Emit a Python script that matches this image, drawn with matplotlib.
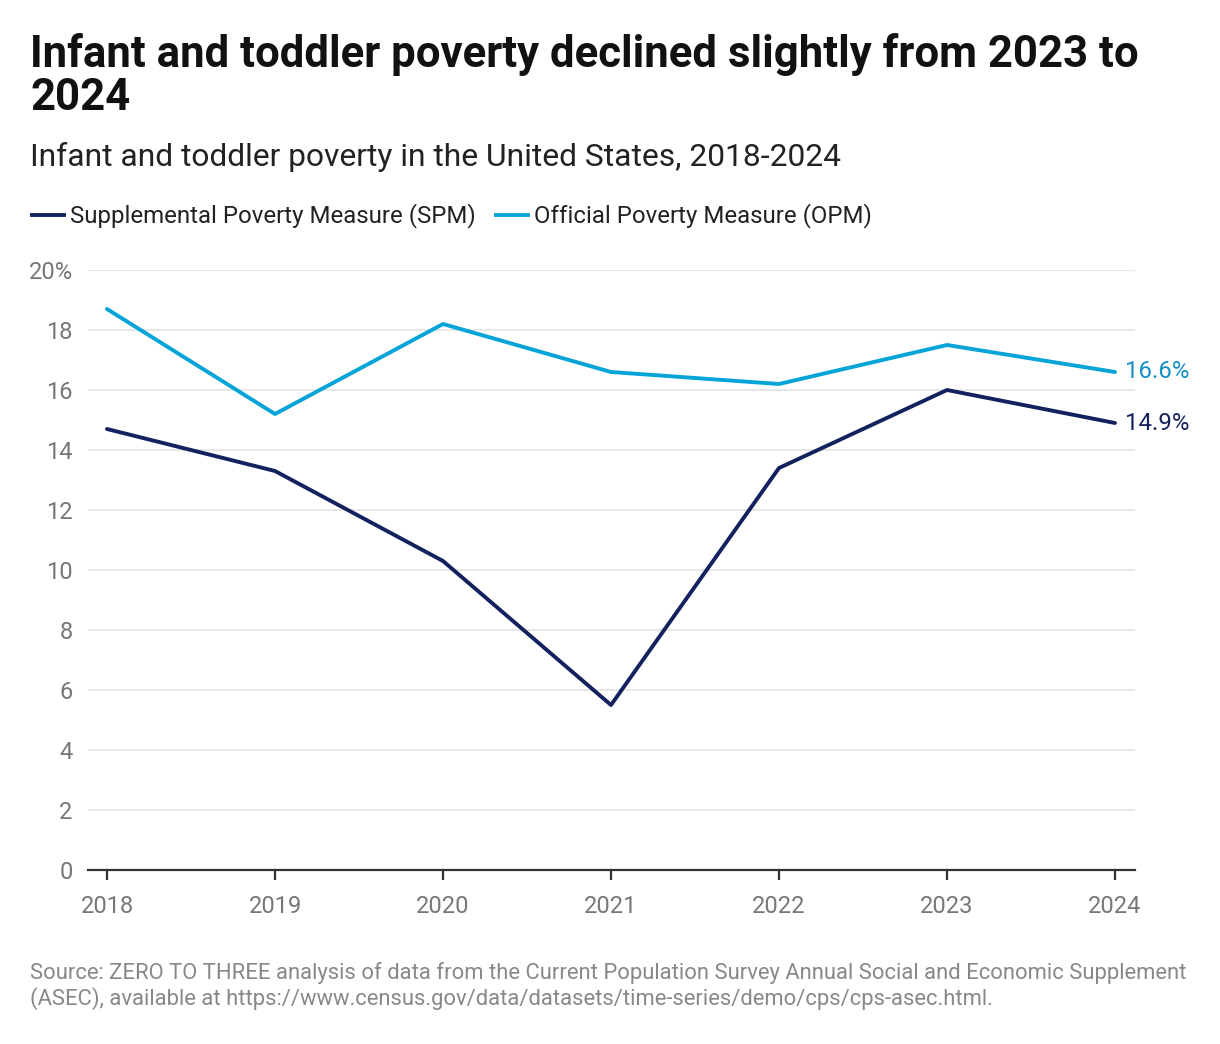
import matplotlib.pyplot as plt
from matplotlib.lines import Line2D

plt.rcParams['font.family'] = ['Roboto', 'DejaVu Sans']

years = [2018, 2019, 2020, 2021, 2022, 2023, 2024]
spm = [14.7, 13.3, 10.3, 5.5, 13.4, 16.0, 14.9]
opm = [18.7, 15.2, 18.2, 16.6, 16.2, 17.5, 16.6]
yticks = [0, 2, 4, 6, 8, 10, 12, 14, 16, 18, 20]
ytick_labels = ['0', '2', '4', '6', '8', '10', '12', '14', '16', '18', '20%']

spm_color = '#13215e'
opm_color = '#04a3d8'

fig = plt.figure(figsize=(12.2, 10.44), dpi=100)
ax = fig.add_axes([88 / 1220, 1 - 870 / 1044, (1135 - 88) / 1220, 600 / 1044])

ax.plot(years, spm, color=spm_color, lw=2.8, solid_capstyle='round', zorder=3)
ax.plot(years, opm, color=opm_color, lw=2.8, solid_capstyle='round', zorder=3)

# end labels
ax.annotate(f'{spm[-1]}%', (years[-1], spm[-1]), xytext=(7, 0), textcoords='offset points',
            va='center', ha='left', fontsize=17.3, color=spm_color, annotation_clip=False)
ax.annotate(f'{opm[-1]}%', (years[-1], opm[-1]), xytext=(7, 0), textcoords='offset points',
            va='center', ha='left', fontsize=17.3, color='#1690c4', annotation_clip=False)

ax.set_xlim(2018 - 19 / 168, 2024 + 20 / 168)
ax.set_ylim(0, 20)
ax.set_yticks(yticks)
ax.set_yticklabels(ytick_labels)
ax.set_xticks(years)
ax.set_xticklabels([str(y) for y in years])
ax.grid(axis='y', color='#e3e3e3', lw=1.2)
ax.set_axisbelow(True)
for s in ['top', 'right', 'left']:
    ax.spines[s].set_visible(False)
ax.spines['bottom'].set_color('#333333')
ax.spines['bottom'].set_linewidth(1.6)
ax.spines['bottom'].set_zorder(4)
ax.tick_params(axis='y', length=0, pad=11, labelsize=17, labelcolor='#777777')
ax.tick_params(axis='x', length=7, width=1.6, color='#333333', pad=11, labelsize=17, labelcolor='#777777')

# title, subtitle
fig.text(30 / 1220, 1 - 67 / 1044, 'Infant and toddler poverty declined slightly from 2023 to',
         fontsize=31.5, fontweight='bold', color='#111111', va='baseline')
fig.text(30 / 1220, 1 - 110 / 1044, '2024',
         fontsize=31.5, fontweight='bold', color='#111111', va='baseline')
fig.text(30 / 1220, 1 - 166 / 1044, 'Infant and toddler poverty in the United States, 2018-2024',
         fontsize=22.9, color='#222222', va='baseline')

# legend
handles = [Line2D([], [], color=spm_color, lw=2.8),
           Line2D([], [], color=opm_color, lw=2.8)]
fig.legend(handles, ['Supplemental Poverty Measure (SPM)', 'Official Poverty Measure (OPM)'],
           loc='center left', bbox_to_anchor=(10 / 1220, 1 - 216 / 1044), ncol=2, frameon=False,
           fontsize=17.3, handlelength=1.33, handletextpad=0.25, columnspacing=0.87, labelcolor='#222222')

fig.text(30 / 1220, 1 - 979 / 1044,
         'Source: ZERO TO THREE analysis of data from the Current Population Survey Annual Social and Economic Supplement',
         fontsize=15.85, color='#888888', va='baseline')
fig.text(30 / 1220, 1 - 1005 / 1044,
         '(ASEC), available at https://www.census.gov/data/datasets/time-series/demo/cps/cps-asec.html.',
         fontsize=15.85, color='#888888', va='baseline')

fig.savefig('out.png', dpi=100)
